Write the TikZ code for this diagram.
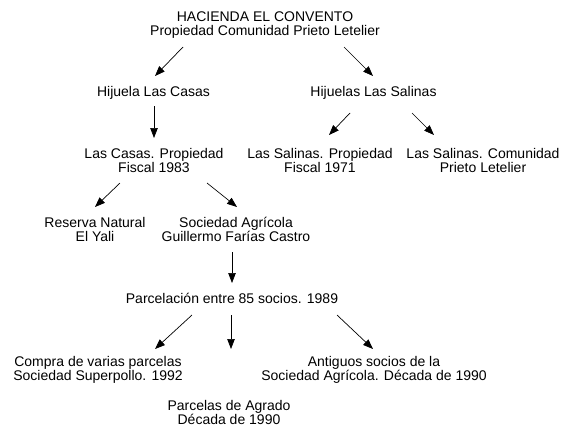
\documentclass[tikz,border=0pt]{standalone}
\usepackage{fontspec}
\setmainfont{Liberation Sans}
\usetikzlibrary{arrows.meta}
\begin{document}
\begin{tikzpicture}[x=1pt,y=-1pt,
  lbl/.style={anchor=base,align=center,inner sep=0pt,font=\fontsize{14}{14}\selectfont},
  arr/.style={line width=0.7pt,-{Triangle[length=10pt,width=7.5pt]}}]
\useasboundingbox (0,0) rectangle (572,434);
% y values are the baseline of the last line
\node[lbl] (top) at (265,35) {HACIENDA EL CONVENTO\\Propiedad Comunidad Prieto Letelier};
\node[lbl] (hcasas) at (153.5,96) {Hijuela Las Casas};
\node[lbl] (hsal) at (373.5,96) {Hijuelas Las Salinas};
\node[lbl] (lcasas) at (154,172) {Las Casas. Propiedad\\Fiscal 1983};
\node[lbl] (lsal1) at (320,172) {Las Salinas. Propiedad\\Fiscal 1971};
\node[lbl] (lsal2) at (483,172) {Las Salinas. Comunidad\\Prieto Letelier};
\node[lbl] (reserva) at (95,241) {Reserva Natural\\El Yali};
\node[lbl] (socag) at (236,241) {Sociedad Agrícola\\Guillermo Farías Castro};
\node[lbl] (parcel) at (232,303) {Parcelación entre 85 socios. 1989};
\node[lbl] (compra) at (98,380) {Compra de varias parcelas\\Sociedad Superpollo. 1992};
\node[lbl] (antig) at (374,380) {Antiguos socios de la\\Sociedad Agrícola. Década de 1990};
\node[lbl] (agrado) at (229,424) {Parcelas de Agrado\\Década de 1990};
% arrow end points
\coordinate (a1s) at (183,47);  \coordinate (a1e) at (155,76);
\coordinate (a2s) at (344,47);  \coordinate (a2e) at (373,76);
\coordinate (a3s) at (154,106); \coordinate (a3e) at (154,138);
\coordinate (a4s) at (350,113); \coordinate (a4e) at (329,135);
\coordinate (a5s) at (412,113); \coordinate (a5e) at (434,135);
\coordinate (a6s) at (120,183); \coordinate (a6e) at (95,207);
\coordinate (a7s) at (207,183); \coordinate (a7e) at (237,207);
\coordinate (a8s) at (232,252); \coordinate (a8e) at (232,283);
\coordinate (a9s) at (192,315); \coordinate (a9e) at (155,349);
\coordinate (a10s) at (231,315); \coordinate (a10e) at (231,349);
\coordinate (a11s) at (337,315); \coordinate (a11e) at (373,349);
\foreach \i in {1,...,11} \draw[arr] (a\i s) -- (a\i e);
\end{tikzpicture}
\end{document}
